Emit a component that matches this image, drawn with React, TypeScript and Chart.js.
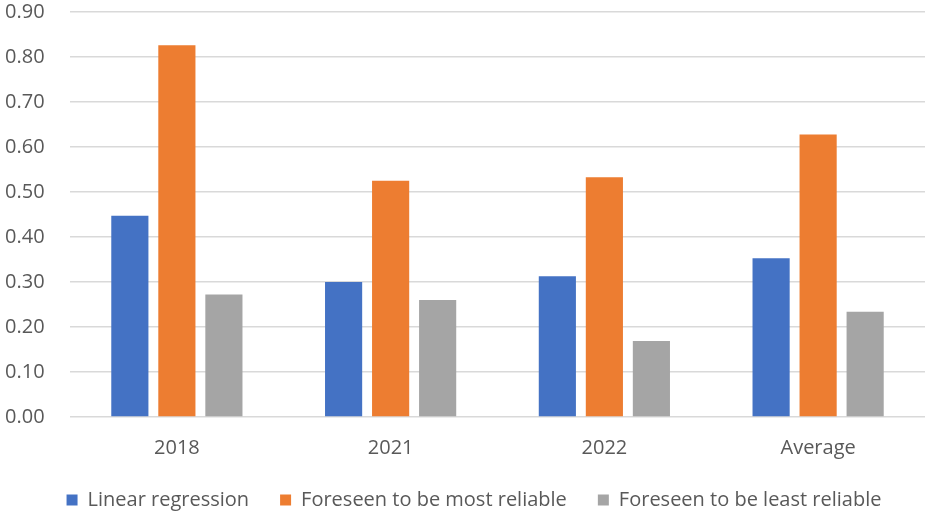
import React, { useEffect, useRef } from "react";
import { Chart, registerables } from "chart.js";

Chart.register(...registerables);

const categories = ["2018", "2021", "2022", "Average"];
const linearRegression = [0.447, 0.3, 0.313, 0.353];
const mostReliable = [0.826, 0.525, 0.533, 0.628];
const leastReliable = [0.272, 0.26, 0.169, 0.234];
const seriesNames = [
  "Linear regression",
  "Foreseen to be most reliable",
  "Foreseen to be least reliable",
];
const colors = ["#4472C4", "#ED7D31", "#A5A5A5"];

const FONT = "'Open Sans', 'DejaVu Sans', sans-serif";

const legendShift = {
  id: "legendShift",
  afterLayout(chart: any) {
    const l = chart.legend;
    if (l) {
      l.left += 9;
      l.right += 9;
    }
  },
};

export default function App() {
  const ref = useRef<HTMLCanvasElement | null>(null);

  useEffect(() => {
    document.body.style.margin = "0";
    const ctx = ref.current;
    if (!ctx) return;
    const chart = new Chart(ctx, {
      type: "bar",
      data: {
        labels: categories,
        datasets: [linearRegression, mostReliable, leastReliable].map((d, i) => ({
          label: seriesNames[i],
          data: d,
          backgroundColor: colors[i],
          borderWidth: 0,
          categoryPercentage: 0.66,
          barPercentage: 0.79,
        })),
      },
      plugins: [legendShift],
      options: {
        responsive: false,
        animation: false,
        devicePixelRatio: 1,
        layout: { padding: { top: 0, right: 2, left: 5, bottom: -8 } },
        plugins: {
          tooltip: { enabled: false },
          legend: {
            position: "bottom",
            labels: {
              boxWidth: 11,
              boxHeight: 11,
              color: "#595959",
              font: { family: FONT, size: 20 },
              padding: 31,
            },
          },
        },
        scales: {
          x: {
            grid: { display: false },
            border: { display: false },
            afterFit: (scale: any) => {
              scale.height = 42;
            },
            ticks: {
              color: "#595959",
              font: { family: FONT, size: 20 },
              padding: 11,
            },
          },
          y: {
            min: 0,
            max: 0.9,
            border: { display: false },
            grid: { color: "#D9D9D9", lineWidth: 1.5, drawTicks: false },
            afterFit: (scale: any) => {
              scale.width = 65;
            },
            ticks: {
              stepSize: 0.1,
              color: "#595959",
              font: { family: FONT, size: 20 },
              padding: 0,
              crossAlign: "far",
              callback: (v: any) => Number(v).toFixed(2),
            },
          },
        },
      },
    });
    return () => chart.destroy();
  }, []);

  return (
    <div style={{ position: "absolute", left: 0, top: 0, width: 927, height: 512, background: "#fff" }}>
      <canvas ref={ref} width={927} height={512} />
    </div>
  );
}
